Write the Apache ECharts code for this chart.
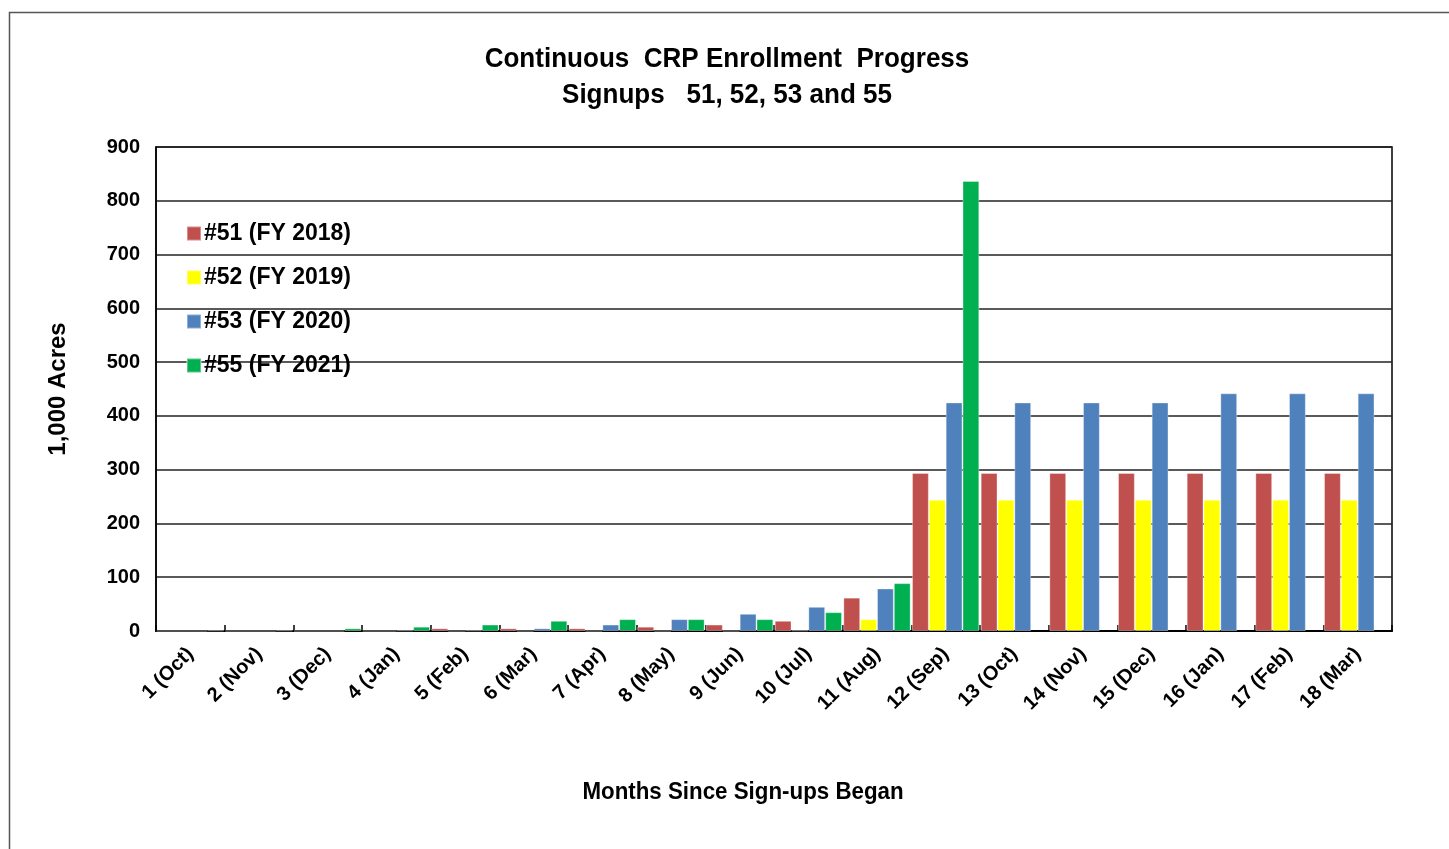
<!DOCTYPE html>
<html>
<head>
<meta charset="utf-8">
<title>Continuous CRP Enrollment Progress</title>
<script src="https://cdn.jsdelivr.net/npm/echarts@6/dist/echarts.min.js"></script>
<style>
  html, body { margin: 0; padding: 0; background: #fff; }
  #chart { width: 1449px; height: 849px; }
</style>
</head>
<body>
<div id="chart"></div>
<script>
  // months since sign-ups began
  var months = ['1 (Oct)', '2 (Nov)', '3 (Dec)', '4 (Jan)', '5 (Feb)', '6 (Mar)', '7 (Apr)', '8 (May)', '9 (Jun)',
    '10 (Jul)', '11 (Aug)', '12 (Sep)', '13 (Oct)', '14 (Nov)', '15 (Dec)', '16 (Jan)', '17 (Feb)', '18 (Mar)'];
  // 1,000 acres
  var signup51 = [0, 0, 0, 0, 5, 5, 5, 8, 12, 19, 62, 294, 294, 294, 294, 294, 294, 294];
  var signup52 = [0, 0, 0, 0, 0, 0, 0, 0, 0, 1, 22, 244, 244, 244, 244, 244, 244, 244];
  var signup53 = [0, 0, 0, 1, 1, 5, 12, 22, 32, 45, 79, 425, 425, 425, 425, 442, 442, 442];
  var signup55 = [1, 1, 5, 8, 12, 19, 22, 22, 22, 35, 89, 837, null, null, null, null, null, null];
  var yTicks = [0, 100, 200, 300, 400, 500, 600, 700, 800, 900];

  var chart = echarts.init(document.getElementById('chart'));
  var boldFont = { fontFamily: 'Liberation Sans, Arial, sans-serif', fontWeight: 'bold', color: '#000' };

  function bar(name, data, color) {
    return {
      name: name,
      type: 'bar',
      data: data,
      barGap: '0%',
      barCategoryGap: '2%',
      itemStyle: { color: color, borderColor: 'rgba(255,255,255,0.35)', borderWidth: 1 },
      animation: false
    };
  }

  // narrow-looking bold text (no Arial Narrow here, so squeeze Liberation Sans)
  function narrowText(str, x, y, size, sx) {
    return {
      type: 'text',
      silent: true,
      x: x,
      y: y,
      scaleX: sx,
      style: {
        text: str,
        fontFamily: 'Liberation Sans, Arial, sans-serif',
        fontWeight: 'bold',
        fontSize: size,
        fill: '#000',
        align: 'center',
        verticalAlign: 'middle'
      }
    };
  }

  chart.setOption({
    backgroundColor: '#fff',
    legend: {
      orient: 'vertical',
      left: 181,
      top: 217,
      itemWidth: 14,
      itemHeight: 14,
      itemGap: 21,
      icon: 'rect',
      textStyle: Object.assign({ fontSize: 23, padding: [0, 0, 0, -2] }, boldFont),
      data: ['#51 (FY 2018)', '#52 (FY 2019)', '#53 (FY 2020)', '#55 (FY 2021)']
    },
    grid: {
      left: 156,
      right: 57,
      top: 147,
      bottom: 218,
      show: true,
      borderColor: '#000',
      borderWidth: 1.5,
      containLabel: false
    },
    xAxis: {
      type: 'category',
      data: months,
      axisLine: { lineStyle: { color: '#000', width: 2 } },
      axisTick: { show: true, inside: true, length: 6, lineStyle: { color: '#000', width: 1.5 } },
      axisLabel: Object.assign({ rotate: 45, fontSize: 20, margin: 20, interval: 0 }, boldFont)
    },
    yAxis: {
      type: 'value',
      min: yTicks[0],
      max: yTicks[yTicks.length - 1],
      interval: 100,
      name: '1,000 Acres',
      nameLocation: 'middle',
      nameGap: 86,
      nameRotate: 90,
      nameTextStyle: Object.assign({ fontSize: 24 }, boldFont),
      axisLine: { show: true, lineStyle: { color: '#000', width: 1.5 } },
      axisTick: { show: false },
      axisLabel: Object.assign({ fontSize: 20, margin: 16 }, boldFont),
      splitLine: { show: true, lineStyle: { color: '#222', width: 1.5 } }
    },
    series: [
      bar('#51 (FY 2018)', signup51, '#C0504D'),
      bar('#52 (FY 2019)', signup52, '#FFFF00'),
      bar('#53 (FY 2020)', signup53, '#4F81BD'),
      bar('#55 (FY 2021)', signup55, '#00B050')
    ],
    graphic: [
      {
        type: 'rect',
        silent: true,
        shape: { x: 9.5, y: 12.5, width: 1500, height: 900 },
        style: { fill: 'none', stroke: '#555', lineWidth: 1.5 }
      },
      narrowText('Continuous  CRP Enrollment  Progress', 727, 59, 28, 0.93),
      narrowText('Signups   51, 52, 53 and 55', 727, 95, 28, 0.93),
      narrowText('Months Since Sign-ups Began', 743, 792, 24, 0.93)
    ]
  });
</script>
</body>
</html>
